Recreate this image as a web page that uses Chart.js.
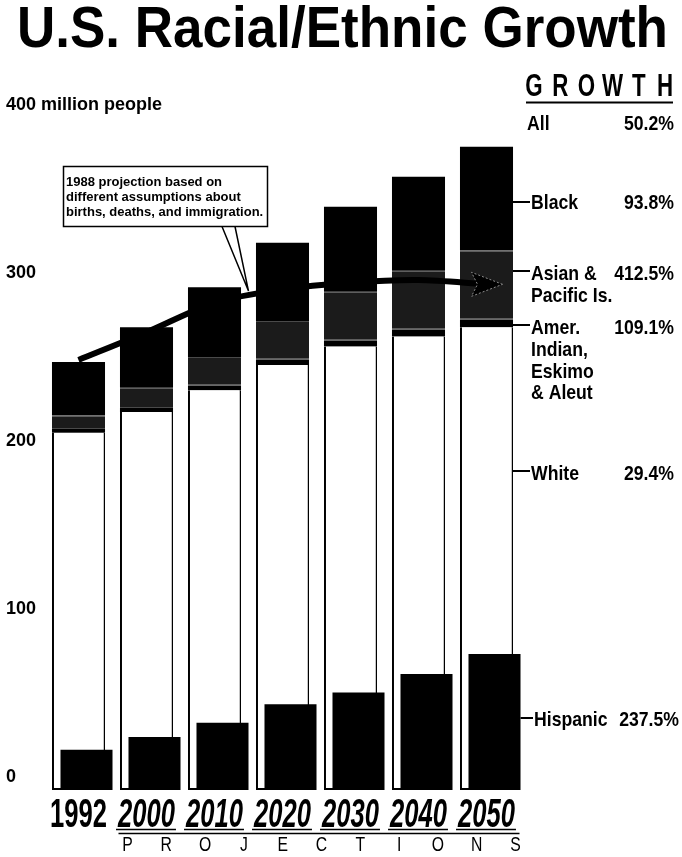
<!DOCTYPE html>
<html>
<head>
<meta charset="utf-8">
<title>U.S. Racial/Ethnic Growth</title>
<script src="https://cdn.jsdelivr.net/npm/chart.js@4/dist/chart.umd.min.js"></script>
<style>
  html, body { margin: 0; padding: 0; background: #fff; }
  #c { display: block; }
</style>
</head>
<body>
<canvas id="c" width="682" height="857"></canvas>
<script>
// ---------------- DATA (millions of people) ----------------
const years          = ['1992', '2000', '2010', '2020', '2030', '2040', '2050'];
const hispanic       = [24, 31.5, 40, 51, 58, 69, 81];
const white          = [212.7, 225, 238, 253, 264, 270, 275.5];
const amerIndian     = [2.2, 2.4, 2.8, 3.2, 3.6, 4.1, 4.6];
const asianPacific   = [8, 12, 17, 23, 29, 35, 41];
const black          = [31.9, 36, 41.5, 46.5, 50.5, 56, 61.8];
const projection1988 = [256, 272.5, 290, 298, 302, 303.5, 301];

const yTickValues = [0, 100, 200, 300, 400];
const yTickLabels = ['0', '100', '200', '300', '400 million people'];

const growthTitle  = 'GROWTH';
const growthNames  = [['All'], ['Black'], ['Asian &', 'Pacific Is.'], ['Amer.', 'Indian,', 'Eskimo', '& Aleut'], ['White'], ['Hispanic']];
const growthValues = ['50.2%', '93.8%', '412.5%', '109.1%', '29.4%', '237.5%'];
const noteLines    = ['1988 projection based on', 'different assumptions about', 'births, deaths, and immigration.'];
const projWord     = 'PROJECTIONS';

// ---------------- STYLE ----------------
const FONT = "'Liberation Sans', Arial, Helvetica, sans-serif";
const HISP_SHIFT = 8;

function cText(ctx, s, x, y, size, sx, align, style) {
  ctx.save();
  ctx.font = (style || 'bold') + ' ' + size + 'px ' + FONT;
  ctx.fillStyle = '#000';
  ctx.textAlign = align || 'left';
  ctx.textBaseline = 'alphabetic';
  ctx.translate(x, y);
  ctx.scale(sx, 1);
  ctx.fillText(s, 0, 0);
  ctx.restore();
}
function textW(ctx, s, size, sx, style) {
  ctx.save();
  ctx.font = (style || 'bold') + ' ' + size + 'px ' + FONT;
  const w = ctx.measureText(s).width * sx;
  ctx.restore();
  return w;
}
function hline(ctx, x1, x2, y, w) {
  ctx.save(); ctx.strokeStyle = '#000'; ctx.lineWidth = w;
  ctx.beginPath(); ctx.moveTo(x1, y); ctx.lineTo(x2, y); ctx.stroke(); ctx.restore();
}

// shift the hidden Hispanic axis a little to the right, as in the print
const shiftPlugin = {
  id: 'shiftHispanic',
  afterLayout(chart) {
    const s = chart.scales.xh;
    s.left += HISP_SHIFT; s.right += HISP_SHIFT;
    s.configure();
  }
};

const decoPlugin = {
  id: 'deco',
  afterDatasetsDraw(chart) {
    const ctx = chart.ctx;
    const pts = chart.getDatasetMeta(5).data;
    const p = pts[pts.length - 1];
    ctx.save();
    ctx.fillStyle = '#000';
    ctx.strokeStyle = '#8c8c8c';
    ctx.lineWidth = 1;
    ctx.setLineDash([2, 2]);
    ctx.beginPath();
    ctx.moveTo(p.x + 16, p.y);
    ctx.lineTo(p.x - 15, p.y - 12);
    ctx.lineTo(p.x - 9, p.y);
    ctx.lineTo(p.x - 15, p.y + 12);
    ctx.closePath();
    ctx.fill();
    ctx.stroke();
    ctx.restore();
  },
  afterDraw(chart) {
    const ctx = chart.ctx;
    const xs = chart.scales.x;

    // Title
    cText(ctx, 'U.S. Racial/Ethnic Growth', 17, 47, 57, 0.93, 'left');

    // Callout box
    const pts = chart.getDatasetMeta(5).data;
    const tip = { x: (pts[2].x + pts[3].x) / 2, y: (pts[2].y + pts[3].y) / 2 - 5 };
    const bx = 63.5, by = 166.5, bw = 204, bh = 60;
    ctx.save();
    ctx.fillStyle = '#fff';
    ctx.strokeStyle = '#000';
    ctx.lineWidth = 1.5;
    ctx.beginPath();
    ctx.moveTo(222, by + bh); ctx.lineTo(tip.x, tip.y); ctx.lineTo(235, by + bh); ctx.closePath();
    ctx.fill();
    ctx.beginPath();
    ctx.moveTo(222, by + bh); ctx.lineTo(tip.x, tip.y); ctx.lineTo(235, by + bh);
    ctx.stroke();
    ctx.fillRect(bx, by, bw, bh);
    ctx.strokeRect(bx, by, bw, bh);
    ctx.restore();
    noteLines.forEach((s, i) => cText(ctx, s, 66, 186 + i * 15, 13, 1, 'left'));

    // GROWTH header
    const gx0 = 534, gx1 = 665;
    for (let i = 0; i < growthTitle.length; i++) {
      const cx = gx0 + (gx1 - gx0) * i / (growthTitle.length - 1);
      cText(ctx, growthTitle[i], cx, 96, 31, 0.72, 'center');
    }
    hline(ctx, 526, 673, 102.5, 2);

    // growth rows
    const barRight = xs.getPixelForValue(6) + 26.5;
    const hispRight = chart.scales.xh.getPixelForValue(6) + 26;
    const rows = [
      { dash: null, base: [130], x: 527, right: 674 },
      { dash: 202, base: [209], x: 531, right: 674 },
      { dash: 271, base: [280, 302], x: 531, right: 674 },
      { dash: 325, base: [334, 356, 378, 399], x: 531, right: 674 },
      { dash: 471, base: [479.5], x: 531, right: 674 },
      { dash: 718, base: [725.5], x: 534, right: 679 }
    ];
    rows.forEach((r, i) => {
      if (r.dash !== null) {
        const x1 = i === 5 ? hispRight : barRight;
        hline(ctx, x1, r.x - 1, r.dash, 2);
      }
      growthNames[i].forEach((s, j) => cText(ctx, s, r.x, r.base[j], 21, 0.84, 'left'));
      cText(ctx, growthValues[i], r.right, r.base[0], 21, 0.84, 'right');
    });

    // Year labels (x axis categories)
    years.forEach((y, i) => {
      const cx = xs.getPixelForValue(i);
      const style = i === 0 ? 'bold' : 'italic bold';
      cText(ctx, y, cx, 827, 40, 0.64, 'center', style);
      if (i > 0) {
        const w = textW(ctx, y, 40, 0.64, style);
        hline(ctx, cx - w / 2 - 2, cx + w / 2 + 1, 829.5, 1.5);
      }
    });
    const lx1 = xs.getPixelForValue(1) - 28, lx2 = xs.getPixelForValue(6) + 33;
    hline(ctx, lx1, lx2, 833.5, 1.5);
    const px0 = lx1 + 9, px1 = lx2 - 4;
    for (let i = 0; i < projWord.length; i++) {
      const cx = px0 + (px1 - px0) * i / (projWord.length - 1);
      cText(ctx, projWord[i], cx, 851, 21, 0.75, 'center', 'normal');
    }
  }
};

const barBase = { categoryPercentage: 1, barPercentage: 0.78, xAxisID: 'x', stack: 'race', order: 3, grouped: false };

new Chart(document.getElementById('c'), {
  type: 'bar',
  data: {
    labels: years,
    datasets: [
      { label: 'Hispanic', data: hispanic, xAxisID: 'xh', stack: 'hisp', backgroundColor: '#000',
        categoryPercentage: 1, barPercentage: 0.765, order: 1, grouped: false },
      Object.assign({ label: 'White', data: white, backgroundColor: '#fff', borderColor: '#000',
        borderWidth: { left: 2, right: 1.5, top: 0, bottom: 2 }, borderSkipped: false }, barBase),
      Object.assign({ label: 'Amer. Indian, Eskimo & Aleut', data: amerIndian, backgroundColor: '#000' }, barBase),
      Object.assign({ label: 'Asian & Pacific Is.', data: asianPacific, backgroundColor: '#1b1b1b',
        borderColor: '#4a4a4a', borderWidth: { top: 1, bottom: 1, left: 0, right: 0 }, borderSkipped: false }, barBase),
      Object.assign({ label: 'Black', data: black, backgroundColor: '#000' }, barBase),
      { type: 'line', label: '1988 projection', data: projection1988, xAxisID: 'x', yAxisID: 'y',
        borderColor: '#000', borderWidth: 6, pointRadius: 0, tension: 0.3, fill: false, order: 0,
        borderCapStyle: 'butt' }
    ]
  },
  options: {
    responsive: false,
    animation: false,
    devicePixelRatio: 1,
    layout: { padding: { top: 118, right: 161.5, bottom: 0, left: 6 } },
    plugins: { legend: { display: false }, tooltip: { enabled: false }, title: { display: false } },
    scales: {
      x: {
        type: 'category', stacked: true, offset: true,
        grid: { display: false }, border: { display: false },
        ticks: { display: false },
        afterFit(s) { s.height = 67; }
      },
      xh: { type: 'category', stacked: true, offset: true, display: false },
      y: {
        stacked: true, min: 0, max: 400,
        grid: { display: false }, border: { display: false },
        afterFit(s) { s.width = 38.5; },
        afterBuildTicks(s) { s.ticks = yTickValues.map(v => ({ value: v })); },
        ticks: {
          color: '#000', mirror: true, padding: -38.5, labelOffset: -13,
          font: { family: FONT, size: 18, weight: 'bold' },
          callback: (v, i) => yTickLabels[i]
        }
      }
    }
  },
  plugins: [shiftPlugin, decoPlugin]
});
</script>
</body>
</html>
